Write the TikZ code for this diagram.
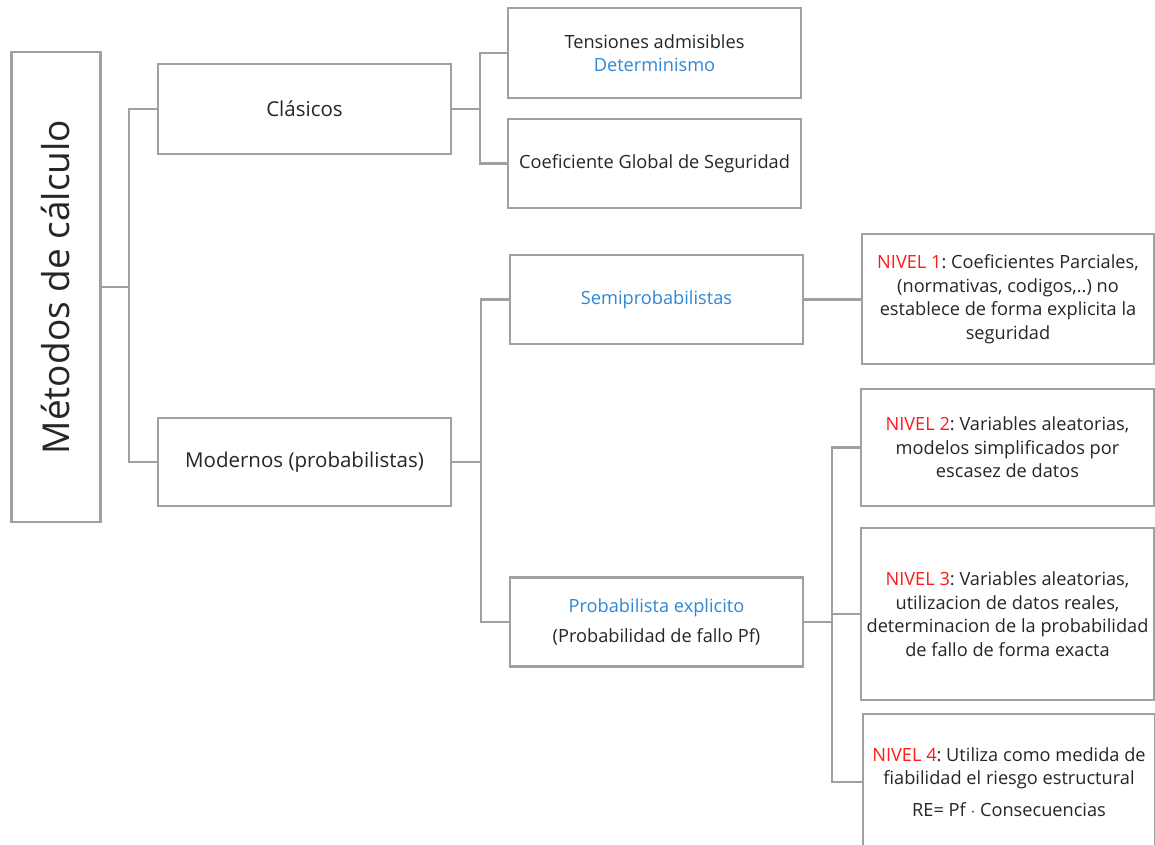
\documentclass[tikz,border=0pt]{standalone}
\usepackage{fontspec}
\setmainfont{Open Sans}
\definecolor{lnc}{HTML}{A0A0A0}
\definecolor{txc}{HTML}{262626}
\definecolor{blu}{HTML}{2E88D4}
\definecolor{rd}{HTML}{FF1A1A}
\begin{document}
\begin{tikzpicture}[x=1pt,y=-1pt,
  box/.style={draw=lnc,line width=2.5pt,fill=white,inner sep=0pt,align=center,text=txc,
    font=\fontsize{18.2}{23.5}\selectfont\frenchspacing},
  big/.style={font=\fontsize{20.5}{25}\selectfont},
  conn/.style={draw=lnc,line width=2.5pt}]
\useasboundingbox (0,0) rectangle (1155,844);
\fill[white] (0,0) rectangle (1155,844);
% nodes
\node[box,minimum width=89,minimum height=470] (main) at (56,287)
  {\rotatebox{90}{\fontsize{37}{44}\selectfont Métodos de cálculo}};
\node[box,big,minimum width=293,minimum height=90] (clas) at (304.5,109) {Clásicos};
\node[box,big,minimum width=293,minimum height=88] (mod) at (304.5,462) {Modernos (probabilistas)};
\node[box,minimum width=293,minimum height=90] (tens) at (654.5,53)
  {Tensiones admisibles\\\textcolor{blu}{Determinismo}};
\node[box,minimum width=293,minimum height=89] (coef) at (654.5,163.5) {Coeficiente Global de Seguridad};
\node[box,minimum width=293,minimum height=89] (semi) at (656.5,299.5) {\textcolor{blu}{Semiprobabilistas}};
\node[box,minimum width=293,minimum height=89] (prob) at (656.5,622)
  {\textcolor{blu}{Probabilista explicito}\\[6pt](Probabilidad de fallo Pf)};
\node[box,minimum width=292,minimum height=130] (n1) at (1008,299)
  {\textcolor{rd}{NIVEL 1}: Coeficientes Parciales,\\(normativas, codigos,..) no\\establece de forma explicita la\\seguridad};
\node[box,minimum width=293,minimum height=117] (n2) at (1007.5,447.5)
  {\textcolor{rd}{NIVEL 2}: Variables aleatorias,\\modelos simplificados por\\escasez de datos};
\node[box,minimum width=293,minimum height=172] (n3) at (1007.5,614)
  {\textcolor{rd}{NIVEL 3}: Variables aleatorias,\\utilizacion de datos reales,\\determinacion de la probabilidad\\de fallo de forma exacta};
\node[box,minimum width=292,minimum height=136] (n4) at (1009,782)
  {\textcolor{rd}{NIVEL 4}: Utiliza como medida de\\fiabilidad el riesgo estructural\\[8pt]RE= Pf $\cdot$ Consecuencias};
% junction coordinates
\coordinate (j1) at (129,0);
\coordinate (j2) at (480,0);
\coordinate (j3) at (481,0);
\coordinate (j4) at (832,0);
% connectors
\draw[conn] (main.east) -- (main.east -| j1);
\draw[conn] (clas.west) -- (clas.west -| j1) -- (mod.west -| j1) -- (mod.west);
\draw[conn] (clas.east) -- (clas.east -| j2);
\draw[conn] (tens.west) -- (tens.west -| j2) -- (coef.west -| j2) -- (coef.west);
\draw[conn] (mod.east) -- (mod.east -| j3);
\draw[conn] (semi.west) -- (semi.west -| j3) -- (prob.west -| j3) -- (prob.west);
\draw[conn] (semi.east) -- (semi.east -| n1.west);
\draw[conn] (prob.east) -- (prob.east -| j4);
\draw[conn] (n2.west) -- (n2.west -| j4) -- (n4.west -| j4) -- (n4.west);
\draw[conn] (n3.west) -- (n3.west -| j4);
\end{tikzpicture}
\end{document}
